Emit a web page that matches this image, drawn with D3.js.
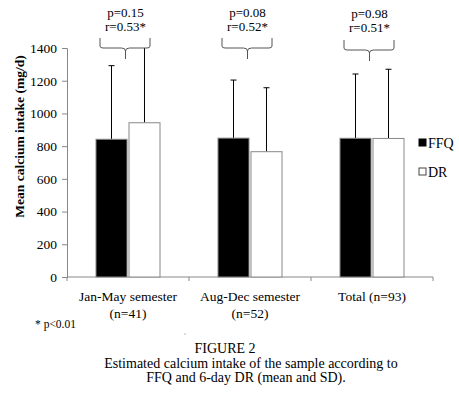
<!DOCTYPE html>
<html>
<head>
<meta charset="utf-8">
<script src="https://cdn.jsdelivr.net/npm/d3@7"></script>
<style>
  body { margin: 0; background: #fff; }
  svg { font-family: "Liberation Serif", "DejaVu Serif", serif; }
</style>
</head>
<body>
<div id="chart"></div>
<script>
// data
const groups = ["Jan-May semester", "Aug-Dec semester", "Total (n=93)"];
const groupSub = ["(n=41)", "(n=52)", ""];
const series = ["FFQ", "DR"];
const ffqMean = [842, 849, 848];
const ffqSD = [450, 355, 393];
const drMean = [943, 766, 847];
const drSD = [500, 391, 423];
const pLabels = ["p=0.15", "p=0.08", "p=0.98"];
const rLabels = ["r=0.53*", "r=0.52*", "r=0.51*"];
const yTicks = [0, 200, 400, 600, 800, 1000, 1200, 1400];

const W = 459, H = 397;
const m = {left: 67, right: 26, top: 48, bottom: 120};
const yMax = 1400;

const svg = d3.select("#chart").append("svg")
	.attr("width", W)
	.attr("height", H);

const x = d3.scaleBand()
	.domain(groups)
	.range([m.left, W - m.right])
	.paddingInner(0)
	.paddingOuter(0);

// the two bars sit in the middle of each category band
const x1 = d3.scaleBand()
	.domain(series)
	.range([29, x.bandwidth() - 29])
	.paddingInner(0.06);

const y = d3.scaleLinear()
	.domain([0, yMax])
	.range([H - m.bottom, m.top]);

const rows = groups.map((g, i) => [
	{g, s: "FFQ", mean: ffqMean[i], sd: ffqSD[i]},
	{g, s: "DR", mean: drMean[i], sd: drSD[i]}
]).flat();

// y axis
const yAxis = svg.append("g")
	.attr("transform", `translate(${m.left},0)`)
	.call(d3.axisLeft(y).tickValues(yTicks).tickFormat(d3.format("d")).tickSize(5).tickPadding(5));
yAxis.select(".domain").attr("stroke", "#888");
yAxis.selectAll(".tick line").attr("stroke", "#888");
yAxis.selectAll(".tick text")
	.attr("fill", "#000")
	.style("font-size", "13.5px")
	.style("font-family", "Liberation Serif");

// x axis line with ticks at band edges
const xAxis = svg.append("g")
	.attr("transform", `translate(0,${y(0)})`);
xAxis.append("line")
	.attr("x1", m.left).attr("x2", W - m.right)
	.attr("stroke", "#888");
xAxis.selectAll(".edge")
	.data(d3.range(groups.length + 1))
	.join("line")
	.attr("x1", i => m.left + i * x.bandwidth())
	.attr("x2", i => m.left + i * x.bandwidth())
	.attr("y1", 0).attr("y2", 4)
	.attr("stroke", "#888");

// error bars (clipped to plot area)
svg.append("clipPath").attr("id", "plot")
	.append("rect")
	.attr("x", m.left).attr("y", m.top)
	.attr("width", W - m.left - m.right)
	.attr("height", y(0) - m.top);

const err = svg.append("g").attr("clip-path", "url(#plot)");
rows.forEach(d => {
	const cx = x(d.g) + x1(d.s) + x1.bandwidth() / 2;
	const top = y(d.mean + d.sd);
	err.append("line")
		.attr("x1", cx).attr("x2", cx)
		.attr("y1", y(d.mean)).attr("y2", top)
		.attr("stroke", "#000");
	err.append("line")
		.attr("x1", cx - 3).attr("x2", cx + 3)
		.attr("y1", top).attr("y2", top)
		.attr("stroke", "#000");
});

// bars
svg.append("g")
	.selectAll("rect")
	.data(rows)
	.join("rect")
	.attr("x", d => x(d.g) + x1(d.s))
	.attr("y", d => y(d.mean))
	.attr("width", x1.bandwidth())
	.attr("height", d => y(0) - y(d.mean))
	.attr("fill", d => d.s === "FFQ" ? "#000" : "#fff")
	.attr("stroke", "#888")
	.attr("stroke-width", 1);

// brackets + p / r labels
const brk = svg.append("g");
groups.forEach((g, i) => {
	const x0 = x(g) + x1("FFQ") + 4;
	const xe = x(g) + x1("DR") + x1.bandwidth() - 10;
	const cx = (x0 + xe) / 2 + 0.5;
	const yt = 38 + (i === 2 ? 2 : 0), yh = yt + 10, yb = yh + 11;
	brk.append("path")
		.attr("d", `M${x0},${yt} L${x0},${yh - 2} Q${x0},${yh} ${x0 + 3},${yh}
			L${cx - 4},${yh} Q${cx},${yh} ${cx},${yh + 3} Q${cx},${yh} ${cx + 4},${yh}
			L${xe - 3},${yh} Q${xe},${yh} ${xe},${yh - 2} L${xe},${yt}
			M${cx},${yh + 3} L${cx},${yb}`)
		.attr("fill", "none")
		.attr("stroke", "#555")
		.attr("stroke-width", 1);
	brk.append("text")
		.attr("x", cx).attr("y", 17 + (i === 2 ? 1 : 0))
		.attr("text-anchor", "middle")
		.style("font-size", "13px")
		.text(pLabels[i]);
	brk.append("text")
		.attr("x", cx).attr("y", 31 + (i === 2 ? 1 : 0))
		.attr("text-anchor", "middle")
		.style("font-size", "13px")
		.text(rLabels[i]);
});

// category labels
const cat = svg.append("g").style("font-size", "13.5px");
groups.forEach((g, i) => {
	const cx = x(g) + x.bandwidth() / 2;
	cat.append("text").attr("x", cx).attr("y", 301)
		.attr("text-anchor", "middle").text(g);
	if (groupSub[i]) cat.append("text").attr("x", cx).attr("y", 318)
		.attr("text-anchor", "middle").text(groupSub[i]);
});

// legend
const leg = svg.append("g").style("font-size", "14px");
series.forEach((s, i) => {
	const ly = 143 + i * 29;
	leg.append("rect")
		.attr("x", 419).attr("y", ly - 4)
		.attr("width", 7).attr("height", 7)
		.attr("fill", s === "FFQ" ? "#000" : "#fff")
		.attr("stroke", s === "FFQ" ? "#000" : "#444");
	leg.append("text").attr("x", 428).attr("y", ly + 5).text(s);
});

// y title
svg.append("text")
	.attr("transform", `translate(24,${(y(0) + m.top) / 2 - 26}) rotate(-90)`)
	.attr("text-anchor", "middle")
	.style("font-size", "13.5px")
	.style("font-weight", "bold")
	.text("Mean calcium intake (mg/d)");

// footnote + caption
svg.append("text").attr("x", 35).attr("y", 328)
	.style("font-size", "11.5px").text("* p<0.01");
svg.append("circle").attr("cx", 185).attr("cy", 334).attr("r", 0.6).attr("fill", "#666");

const cap = svg.append("g").style("font-size", "14px").attr("text-anchor", "middle");
cap.append("text").attr("x", 225).attr("y", 353).text("FIGURE 2");
cap.append("text").attr("x", 251).attr("y", 367.5).text("Estimated calcium intake of the sample according to");
cap.append("text").attr("x", 246).attr("y", 382).text("FFQ and 6-day DR (mean and SD).");
</script>
</body>
</html>
